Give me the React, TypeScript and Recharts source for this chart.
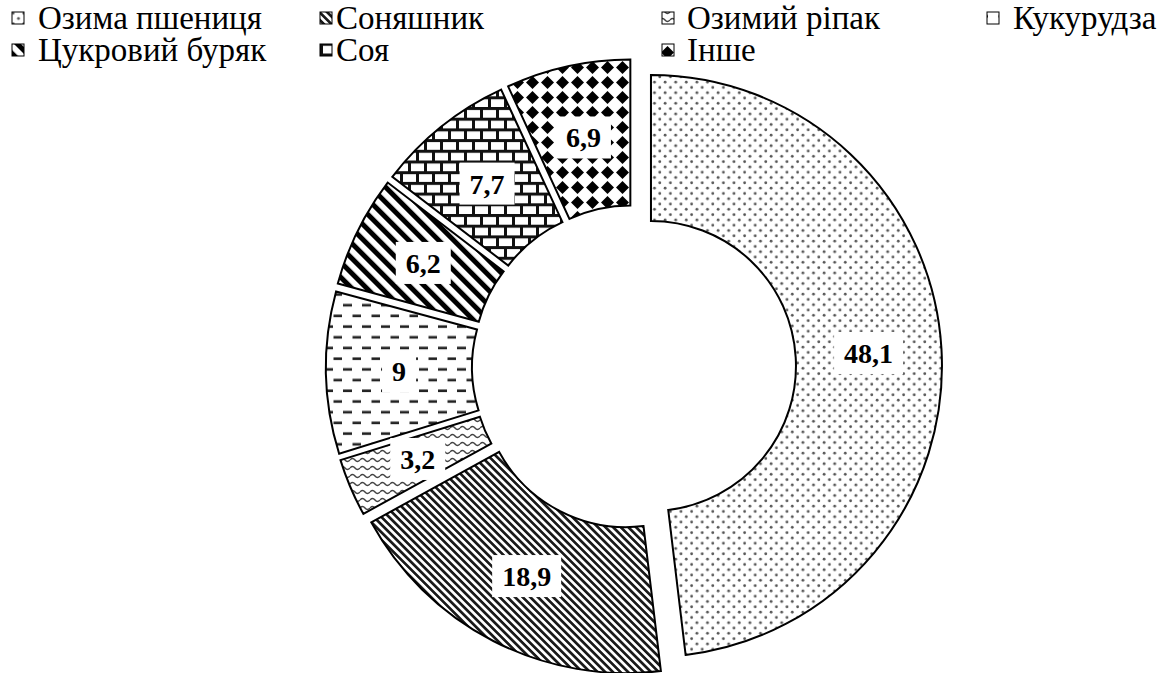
import React from 'react';
import { PieChart, Pie, Cell, Sector } from 'recharts';

// structure of sown area, %
const crops = [
  'Озима пшениця',
  'Соняшник',
  'Озимий ріпак',
  'Кукурудза',
  'Цукровий буряк',
  'Соя',
  'Інше',
];
const shares = [48.1, 18.9, 3.2, 9, 6.2, 7.7, 6.9];
const patternIds = ['pDots', 'pDiag', 'pWave', 'pDash', 'pWide', 'pBrick', 'pDiamond'];

const data = crops.map((name, i) => ({ name, value: shares[i] }));

const FONT = '"Liberation Serif", "DejaVu Serif", serif';
const EXPLODE = 17;
const RAD = Math.PI / 180;

// legend grid (4 columns, 2 rows)
const legendIconX = [12, 320, 662, 987];
const legendTextX = [38, 336, 687, 1013];
const legendBaseY = [29, 61];

function shift(midAngle: number) {
  return [EXPLODE * Math.cos(-midAngle * RAD), EXPLODE * Math.sin(-midAngle * RAD)];
}

function ExplodedSector(props: any) {
  const { cx, cy, innerRadius, outerRadius, startAngle, endAngle, midAngle, fill } = props;
  const [dx, dy] = shift(midAngle);
  return (
    <Sector
      cx={cx + dx}
      cy={cy + dy}
      innerRadius={innerRadius}
      outerRadius={outerRadius}
      startAngle={startAngle}
      endAngle={endAngle}
      fill={fill}
      stroke="#000"
      strokeWidth={2}
    />
  );
}

function renderLabel(props: any) {
  const { cx, cy, midAngle, innerRadius, outerRadius, value } = props;
  const [dx, dy] = shift(midAngle);
  const r = (innerRadius + outerRadius) / 2;
  const x = cx + dx + r * Math.cos(-midAngle * RAD);
  const y = cy + dy + r * Math.sin(-midAngle * RAD);
  const text = String(value).replace('.', ',');
  const digits = text.replace(',', '').length;
  const w = digits * 14 + (text.includes(',') ? 7 : 0) + 20;
  const h = 42;
  return (
    <g>
      <rect x={x - w / 2} y={y - h / 2} width={w} height={h} fill="#fff" />
      <text
        x={x}
        y={y + 10}
        textAnchor="middle"
        style={{ fontFamily: FONT, fontWeight: 'bold', fontSize: 28 }}
        fill="#000"
      >
        {text}
      </text>
    </g>
  );
}

function LegendGrid() {
  return (
    <svg
      width={1170}
      height={70}
      style={{ position: 'absolute', left: 0, top: 0, display: 'block' }}
    >
      {crops.map((name, i) => {
        const col = i % 4;
        const row = Math.floor(i / 4);
        return (
          <g key={name}>
            <rect
              x={legendIconX[col]}
              y={legendBaseY[row] - 17}
              width={12}
              height={12}
              fill={`url(#${patternIds[i]})`}
              stroke="#000"
              strokeWidth={1}
            />
            <text
              x={legendTextX[col]}
              y={legendBaseY[row]}
              style={{ fontFamily: FONT, fontSize: 33 }}
              fill="#000"
            >
              {name}
            </text>
          </g>
        );
      })}
    </svg>
  );
}

export default function App() {
  return (
    <div
      style={{
        position: 'absolute',
        left: 0,
        top: 0,
        width: 1170,
        height: 673,
        background: '#fff',
        fontFamily: FONT,
      }}
    >
      <PieChart width={1170} height={673} margin={{ top: 0, right: 0, bottom: 0, left: 0 }}>
        <defs>
          <pattern id="pDots" width="10.6" height="10.6" patternUnits="userSpaceOnUse">
            <rect width="10.6" height="10.6" fill="#fff" />
            <circle cx="2.6" cy="2.6" r="1.4" fill="#555" />
            <circle cx="7.9" cy="7.9" r="1.4" fill="#555" />
          </pattern>
          <pattern id="pDiag" width="5.4" height="5.4" patternUnits="userSpaceOnUse" patternTransform="rotate(-45)">
            <rect width="5.4" height="5.4" fill="#fff" />
            <rect width="2.7" height="5.4" fill="#1a1a1a" />
          </pattern>
          <pattern id="pWave" width="10" height="8" patternUnits="userSpaceOnUse">
            <rect width="10" height="8" fill="#fff" />
            <path d="M0 4 Q2.5 1 5 4 T10 4" stroke="#444" strokeWidth="1.5" fill="none" />
          </pattern>
          <pattern id="pDash" width="19" height="21.4" patternUnits="userSpaceOnUse">
            <rect width="19" height="21.4" fill="#fff" />
            <rect x="1" y="4.3" width="9" height="2.6" fill="#222" />
            <rect x="10.5" y="15" width="9" height="2.6" fill="#222" />
          </pattern>
          <pattern id="pWide" width="10.6" height="10.6" patternUnits="userSpaceOnUse" patternTransform="rotate(-45)">
            <rect width="10.6" height="10.6" fill="#fff" />
            <rect width="5" height="10.6" fill="#000" />
          </pattern>
          <pattern id="pBrick" width="16" height="21.4" patternUnits="userSpaceOnUse">
            <rect width="16" height="21.4" fill="#fff" />
            <rect x="0" y="0" width="16" height="3" fill="#111" />
            <rect x="0" y="10.7" width="16" height="3" fill="#111" />
            <rect x="0" y="0" width="3" height="10.7" fill="#111" />
            <rect x="8" y="10.7" width="3" height="10.7" fill="#111" />
          </pattern>
          <pattern id="pDiamond" width="15" height="15" patternUnits="userSpaceOnUse">
            <rect width="15" height="15" fill="#fff" />
            <polygon points="7.5,1 14,7.5 7.5,14 1,7.5" fill="#000" />
          </pattern>
        </defs>
        <Pie
          data={data}
          dataKey="value"
          nameKey="name"
          cx={634}
          cy={367}
          innerRadius={145}
          outerRadius={291}
          startAngle={90}
          endAngle={-270}
          stroke="#000"
          strokeWidth={2}
          shape={ExplodedSector}
          label={renderLabel}
          labelLine={false}
          isAnimationActive={false}
        >
          {data.map((d, i) => (
            <Cell key={d.name} fill={`url(#${patternIds[i]})`} />
          ))}
        </Pie>
      </PieChart>
      <LegendGrid />
    </div>
  );
}
